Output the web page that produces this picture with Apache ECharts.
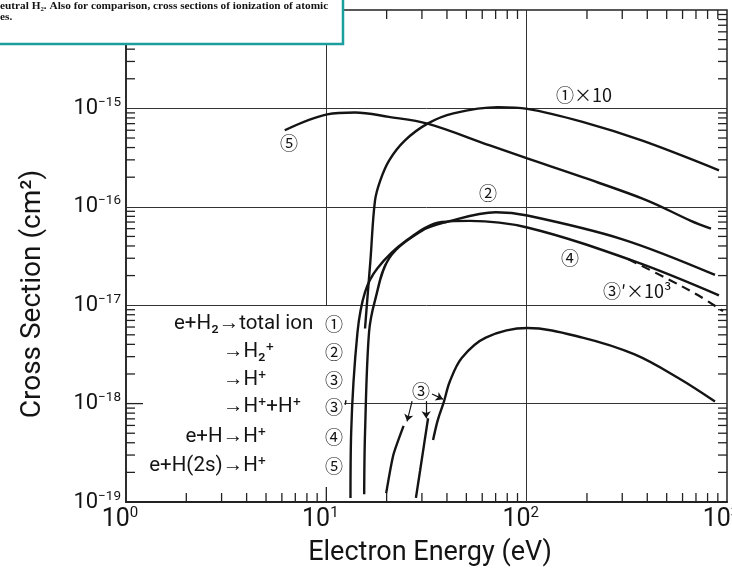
<!DOCTYPE html>
<html><head><meta charset="utf-8">
<script src="https://cdn.jsdelivr.net/npm/echarts@6/dist/echarts.min.js"></script>
<style>html,body{margin:0;padding:0;background:#fff}#c{width:732px;height:574px}</style>
</head><body><div id="c"></div>
<script>
// ---------- data ----------
// (1) e+H2 -> total ion, plotted x10
const totalIonE = [15.6, 16.0, 16.6, 17.5, 18.6, 20.6, 24.7, 32.0, 43.1, 71.8, 100.7, 190, 378, 912];
const totalIonS = [5.8e-18, 1.12e-17, 2.86e-17, 1.16e-16, 1.86e-16, 2.97e-16, 4.73e-16, 7.0e-16, 8.9e-16, 1.03e-15, 9.9e-16, 7.3e-16, 4.7e-16, 2.35e-16];
// (2) e+H2 -> H2+
const h2plusE = [15.45, 15.6, 16.33, 17.5, 20.6, 29.9, 39.4, 70.2, 100.7, 301, 871];
const h2plusS = [1.2e-19, 5.0e-19, 5.25e-18, 1.12e-17, 3.01e-17, 5.69e-17, 6.97e-17, 8.81e-17, 8.15e-17, 4.67e-17, 2.03e-17];
// (3) e+H2 -> H+ (main branch and two short low-energy branches)
const hplusE = [34.1, 36.0, 38.6, 41.3, 47.4, 62.5, 100.7, 190, 346, 574, 871];
const hplusS = [4.26e-19, 6.8e-19, 1.04e-18, 1.67e-18, 2.91e-18, 4.69e-18, 5.86e-18, 4.69e-18, 3.16e-18, 1.81e-18, 1.05e-18];
const hplusAE = [19.9, 21.6, 24.3];
const hplusAS = [1.23e-19, 3.0e-19, 5.93e-19];
const hplusBE = [28.0, 29.4, 32.2];
const hplusBS = [1.1e-19, 2.1e-19, 7.1e-19];
// (3)' e+H2 -> H+ + H+, plotted x10^3 (dashed)
const dissE = [322, 508, 718, 955];
const dissS = [2.93e-17, 1.84e-17, 1.26e-17, 8.7e-18];
// (4) e+H -> H+
const atomHE = [13.2, 13.3, 14.3, 15.6, 18.0, 24.9, 37.7, 52, 100.7, 346, 912];
const atomHS = [1.1e-19, 5.0e-19, 5.25e-18, 1.36e-17, 2.38e-17, 4.49e-17, 7.0e-17, 7.2e-17, 6.16e-17, 2.79e-17, 1.26e-17];
// (5) e+H(2s) -> H+
const h2sE = [6.2, 10.1, 13.9, 20.5, 32, 65.5, 100.7, 190, 395, 660, 832];
const h2sS = [6.0e-16, 8.7e-16, 9.1e-16, 8.2e-16, 7.0e-16, 4.2e-16, 3.1e-16, 2.0e-16, 1.17e-16, 7.2e-17, 6.0e-17];

// tick values / labels
const xLabelExps = [0, 1, 2, 3];
const yLabelExps = [-19, -18, -17, -16, -15];
const xMinorTicks = [2,3,4,5,6,7,8,9,20,30,40,50,60,70,80,90,200,300,400,500,600,700,800,900];
const yDecades = [-19, -18, -17, -16, -15];
const tickMultipliers = [2,3,4,5,6,7,8,9];

// texts
const legendLeft = ['e+H\u2082\u2192total ion', '\u2192H\u2082\u207A', '\u2192H\u207A', '\u2192H\u207A+H\u207A', 'e+H\u2192H\u207A', 'e+H(2s)\u2192H\u207A'];
const legendMarks = ['\u2460', '\u2461', '\u2462', '\u2462\u2032', '\u2463', '\u2464'];
const curveLabels = ['\u2460\u00D710', '\u2464', '\u2461', '\u2463', '\u2462\u2032\u00D710\u00B3', '\u2462'];
const captionLines = ['eutral H\u2082. Also for comparison, cross sections of ionization of atomic', 'es.'];
const xTitle = 'Electron Energy (eV)';
const yTitle = 'Cross Section (cm\u00B2)';

// ---------- chart ----------
const zip = (a, b) => a.map((v, i) => [v, b[i]]);
const FONT = "Roboto, 'Liberation Sans', 'DejaVu Sans', 'Noto Sans CJK JP', sans-serif";
const CJK = "'Noto Sans CJK JP', 'DejaVu Sans', sans-serif";
const SERIF = "'Liberation Serif', 'DejaVu Serif', serif";
const INK = '#141414';

const yMinorTicks = [];
yDecades.forEach(d => tickMultipliers.forEach(m => yMinorTicks.push(m * Math.pow(10, d))));

function curve(name, E, S, extra) {
  return Object.assign({
    name, type: 'line', data: zip(E, S), showSymbol: false, smooth: 0.35,
    lineStyle: { color: INK, width: 2.4 }, z: 5, silent: true
  }, extra || {});
}

const chart = echarts.init(document.getElementById('c'), null, { renderer: 'canvas' });

const ticksX = xMinorTicks.map(v => [v, 1e-19, 0]).concat([[10, 1e-19, 1]]);
const ticksY = yMinorTicks.map(v => [1, v, 0]).concat([[1, 1e-18, 1]]);

function tickLine(x1, y1, x2, y2) {
  return { type: 'line', shape: { x1, y1, x2, y2 }, style: { stroke: '#222', lineWidth: 1.3 } };
}

const option = {
  animation: false,
  backgroundColor: '#fff',
  grid: { left: 126, right: 5, top: 10, bottom: 72, containLabel: false, outerBoundsMode: 'none',
          show: true, borderColor: '#222', borderWidth: 1.5, backgroundColor: 'transparent' },
  xAxis: {
    type: 'log', logBase: 10, min: 1, max: 1000,
    axisLine: { show: true, lineStyle: { color: '#222', width: 2 } },
    axisTick: { show: false }, splitLine: { show: false }, minorTick: { show: false },
    axisLabel: {
      margin: 4, color: INK, hideOverlap: false, padding: [0, 12, 0, 0],
      formatter: v => { const e = Math.round(Math.log10(v)); return xLabelExps.indexOf(e) >= 0 ? '{b|10}{s|' + e + '}' : ''; },
      rich: {
        b: { fontSize: 25, fontFamily: FONT, lineHeight: 28, color: INK },
        s: { fontSize: 15, fontFamily: FONT, lineHeight: 28, verticalAlign: 'top', color: INK }
      }
    }
  },
  yAxis: {
    type: 'log', logBase: 10, min: 1e-19, max: 1e-14,
    axisLine: { show: true, lineStyle: { color: '#222', width: 1.6 } },
    axisTick: { show: false }, splitLine: { show: false }, minorTick: { show: false },
    axisLabel: {
      margin: 5, color: INK,
      formatter: v => { const e = Math.round(Math.log10(v)); return yLabelExps.indexOf(e) >= 0 ? '{b|10}{s|\u2212' + (-e) + '}' : ''; },
      rich: {
        b: { fontSize: 22, fontFamily: FONT, lineHeight: 25, color: INK },
        s: { fontSize: 13.5, fontFamily: FONT, lineHeight: 25, verticalAlign: 'top', color: INK }
      }
    }
  },
  series: [
    {
      name: 'grid', type: 'line', data: [[1, 1e-19]], showSymbol: false, silent: true, lineStyle: { width: 0 }, z: 2,
      markLine: {
        silent: true, symbol: ['none', 'none'], label: { show: false },
        lineStyle: { color: '#333', width: 1, type: 'solid' },
        data: [
          [{ coord: [1, 1e-15] }, { coord: [1000, 1e-15] }],
          [{ coord: [1, 1e-16] }, { coord: [1000, 1e-16] }],
          [{ coord: [1, 1e-17] }, { coord: [1000, 1e-17] }],
          [{ coord: [12.3, 1e-18] }, { coord: [1000, 1e-18] }],
          [{ coord: [10, 1e-17] }, { coord: [10, 1e-14] }],
          [{ coord: [100, 1e-19] }, { coord: [100, 1e-14] }]
        ]
      }
    },
    {
      name: 'xticks', type: 'custom', coordinateSystem: 'cartesian2d', data: ticksX, clip: false, silent: true, z: 3,
      encode: { x: 0, y: 1 },
      renderItem: (params, api) => {
        const cs = params.coordSys;
        const px = api.coord([api.value(0), 1e-19])[0];
        const len = api.value(2) === 1 ? 15 : 9;
        const b = cs.y + cs.height, t = cs.y;
        return { type: 'group', children: [tickLine(px, b, px, b - len), tickLine(px, t, px, t + len)] };
      }
    },
    {
      name: 'yticks', type: 'custom', coordinateSystem: 'cartesian2d', data: ticksY, clip: false, silent: true, z: 3,
      encode: { x: 0, y: 1 },
      renderItem: (params, api) => {
        const cs = params.coordSys;
        const py = api.coord([1, api.value(1)])[1];
        const major = api.value(2) === 1;
        const l = cs.x, r = cs.x + cs.width;
        const kids = [tickLine(l, py, l + (major ? 17 : 9), py)];
        if (!major) kids.push(tickLine(r, py, r - 9, py));
        return { type: 'group', children: kids };
      }
    },
    curve('total ion x10', totalIonE, totalIonS),
    curve('H2+', h2plusE, h2plusS),
    curve('H+', hplusE, hplusS, {
      markLine: {
        silent: true, symbol: ['none', 'arrow'], symbolSize: 7, label: { show: false },
        lineStyle: { color: INK, width: 1.2, type: 'solid' },
        data: [
          [{ coord: [26.8, 1.06e-18] }, { coord: [25.3, 6.6e-19] }],
          [{ coord: [31.5, 1.06e-18] }, { coord: [31.5, 7.1e-19] }],
          [{ coord: [33.7, 1.25e-18] }, { coord: [38.2, 1.11e-18] }]
        ]
      }
    }),
    curve('H+ a', hplusAE, hplusAS, { smooth: 0.2 }),
    curve('H+ b', hplusBE, hplusBS, { smooth: 0.2 }),
    curve('H+ + H+ x1000', dissE, dissS, { lineStyle: { color: INK, width: 2.2, type: [9, 6] } }),
    curve('e+H', atomHE, atomHS),
    curve('e+H(2s)', h2sE, h2sS)
  ],
  graphic: []
};

// text annotations
const g = [];
function txt(text, x, y, size, align, vAlign, fam, extra, z) {
  g.push(Object.assign({
    type: 'text', x, y, z: z || 50, silent: true,
    style: { text, fill: INK, font: size + 'px ' + (fam || FONT), align: align || 'left', verticalAlign: vAlign || 'middle',
             textAlign: align || 'left', textVerticalAlign: vAlign || 'middle' }
  }, extra || {}));
}
// legend block
const rowsY = [324, 352, 380, 407, 437, 466];
txt(legendLeft[0], 174, rowsY[0], 20.5, 'left');
txt(legendLeft[1], 223, rowsY[1], 20.5, 'left');
txt(legendLeft[2], 223, rowsY[2], 20.5, 'left');
txt(legendLeft[3], 223, rowsY[3], 20.5, 'left');
txt(legendLeft[4], 266, rowsY[4], 20.5, 'right');
txt(legendLeft[5], 266, rowsY[5], 20.5, 'right');
legendMarks.forEach((m, i) => txt(m, 325, rowsY[i], 18, 'left', 'middle', CJK));
// curve labels
txt(curveLabels[0], 556, 95, 18, 'left', 'middle', CJK);
txt(curveLabels[1], 289, 143, 18, 'center', 'middle', CJK);
txt(curveLabels[2], 488, 193, 18, 'center', 'middle', CJK);
txt(curveLabels[3], 570, 258, 18, 'center', 'middle', CJK);
txt(curveLabels[4], 603, 291, 18, 'left', 'middle', CJK);
txt(curveLabels[5], 421, 391, 18, 'center', 'middle', CJK);
// axis titles
txt(xTitle, 430, 553, 27, 'center', 'middle');
txt(yTitle, 33, 294, 28, 'center', 'middle', FONT, { rotation: Math.PI / 2 });
// caption box
g.push({ type: 'rect', z: 60, silent: true, shape: { x: -4, y: -4, width: 347, height: 48 },
         style: { fill: '#fff', stroke: '#1b9e9e', lineWidth: 2.5 } });
txt(captionLines[0], 0, 6, 11.3, 'left', 'middle', SERIF, null, 70);
txt(captionLines[1], 0, 17, 11.3, 'left', 'middle', SERIF, null, 70);
g[g.length - 1].style.font = 'bold 11.3px ' + SERIF;
g[g.length - 2].style.font = 'bold 11.3px ' + SERIF;
option.graphic = g;

chart.setOption(option);
</script>
</body></html>
